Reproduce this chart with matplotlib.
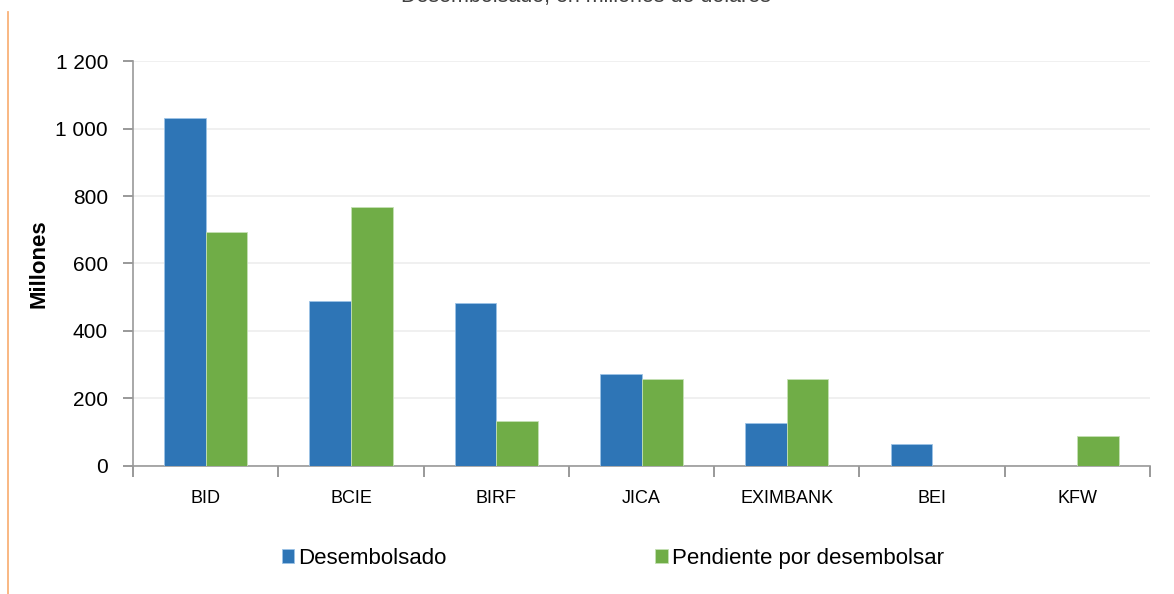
import numpy as np
import matplotlib.pyplot as plt
from matplotlib.lines import Line2D
from matplotlib.ticker import FuncFormatter, MultipleLocator

categorias = ["BID", "BCIE", "BIRF", "JICA", "EXIMBANK", "BEI", "KFW"]
desembolsado = [1030, 490, 484, 273, 127, 65, 0]
pendiente = [693, 766, 134, 258, 258, 0, 89]

plt.rcParams['font.family'] = ['Liberation Sans', 'DejaVu Sans']

fig = plt.figure(figsize=(11.74, 5.94), dpi=100)
ax = fig.add_axes([0.1133, 0.2155, 0.8663, 0.6818])

x = np.arange(len(categorias))
w = 0.286
ax.bar(x - w / 2, desembolsado, w, color="#2E75B6", edgecolor="#9DC3E6", linewidth=0.6,
       label="Desembolsado", zorder=3)
ax.bar(x + w / 2, pendiente, w, color="#70AD47", edgecolor="#C5E0B4", linewidth=0.6,
       label="Pendiente por desembolsar", zorder=3)

ax.set_xlim(-0.5, len(categorias) - 0.5)
ax.set_ylim(0, 1200)
ax.yaxis.set_major_locator(MultipleLocator(200))
ax.yaxis.set_major_formatter(FuncFormatter(lambda v, p: f"{int(v):,}".replace(",", " ")))
ax.grid(axis='y', color="#EEEEEE", linewidth=1.2, zorder=0)

ax.set_xticks(x)
ax.set_xticklabels(categorias, fontsize=13)
ax.set_xticks(np.arange(-0.5, len(categorias)), minor=True)
ax.tick_params(axis='x', which='major', length=0, pad=17)
ax.tick_params(axis='x', which='minor', length=8, color="#888888", width=1.2)
ax.tick_params(axis='y', labelsize=15, length=7, color="#888888", width=1.2, pad=11)

for s in ["top", "right"]:
    ax.spines[s].set_visible(False)
for s in ["left", "bottom"]:
    ax.spines[s].set_color("#999999")
    ax.spines[s].set_linewidth(1.2)

ax.set_ylabel("Millones", fontsize=16, fontweight="bold", labelpad=4)

fig.legend(loc="center", bbox_to_anchor=(0.522, 0.06), ncol=2, frameon=False,
           fontsize=16, handlelength=0.55, handleheight=0.55, handletextpad=0.2,
           columnspacing=9.4)

fig.text(771 / 1174, 1 - 2 / 594, "Desembolsado, en millones de dólares", ha="right",
         va="baseline", fontsize=15.5, color="#404040")

fig.add_artist(Line2D([8 / 1174, 8 / 1174], [0, 1 - 12 / 594], color="#F9B27A", linewidth=1.3))

fig.savefig("out.png", dpi=100)
